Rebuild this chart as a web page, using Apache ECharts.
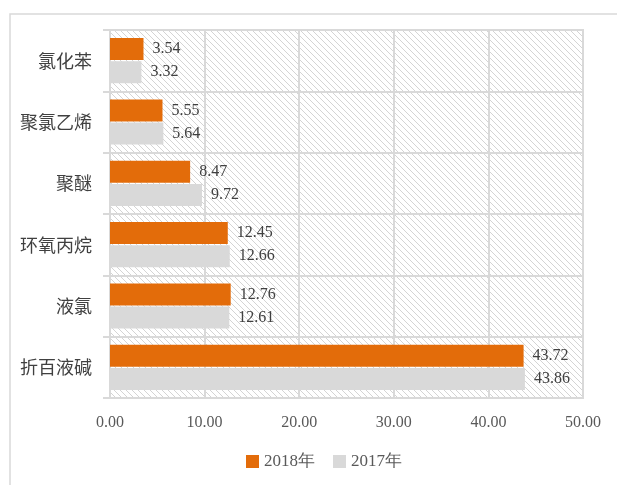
<!DOCTYPE html>
<html>
<head>
<meta charset="utf-8">
<script src="https://cdn.jsdelivr.net/npm/echarts@6/dist/echarts.min.js"></script>
<style>
html, body { margin: 0; padding: 0; background: #fff; }
#chart { width: 617px; height: 485px; }
</style>
</head>
<body>
<div id="chart"></div>
<script>
// 数据 (自下而上)
const categories = ["折百液碱", "液氯", "环氧丙烷", "聚醚", "聚氯乙烯", "氯化苯"];
const data2018 = [43.72, 12.76, 12.45, 8.47, 5.55, 3.54];
const data2017 = [43.86, 12.61, 12.66, 9.72, 5.64, 3.32];
const xTicks = [0, 10, 20, 30, 40, 50];

// 斜线底纹
function hatch() {
	const s = 6;
	const c = document.createElement("canvas");
	c.width = s; c.height = s;
	const ctx = c.getContext("2d");
	ctx.strokeStyle = "#d4d4d4";
	ctx.lineWidth = 1;
	[-s, 0, s].forEach((x0) => {
		ctx.beginPath();
		ctx.moveTo(x0, 0);
		ctx.lineTo(x0 + s, s);
		ctx.stroke();
	});
	return { image: c, repeat: "repeat" };
}

const serif = "'Liberation Serif', 'DejaVu Serif', serif";
const cjk = "'Noto Sans CJK SC', sans-serif";
const grayLine = "#d9d9d9";

const myChart = echarts.init(document.getElementById("chart"));
const labelStyle = {
	show: true,
	position: "right",
	distance: 9,
	color: "#404040",
	fontSize: 16,
	fontFamily: serif,
	formatter: (p) => p.value.toFixed(2),
};

myChart.setOption({
	animation: false,
	graphic: [
		{
			type: "rect",
			shape: { x: 10, y: 14, width: 640, height: 500 },
			style: { fill: null, stroke: grayLine, lineWidth: 1.5 },
			silent: true,
			z: -10,
		},
	],
	grid: {
		left: 110,
		right: 34,
		top: 30,
		bottom: 87,
		show: true,
		backgroundColor: hatch(),
		borderColor: grayLine,
		borderWidth: 2,
	},
	legend: {
		data: ["2018年", "2017年"],
		bottom: 10,
		left: 241,
		icon: "rect",
		itemWidth: 13,
		itemHeight: 13,
		itemGap: 18,
		textStyle: { color: "#595959", fontSize: 17, fontFamily: serif },
	},
	xAxis: {
		type: "value",
		min: xTicks[0],
		max: xTicks[xTicks.length - 1],
		interval: 10,
		axisLine: { show: false },
		axisTick: { show: false },
		axisLabel: {
			margin: 17,
			color: "#595959",
			fontSize: 16,
			fontFamily: serif,
			formatter: (v) => v.toFixed(2),
		},
		splitLine: { lineStyle: { color: grayLine, width: 2 } },
	},
	yAxis: {
		type: "category",
		data: categories,
		axisLine: { show: true, lineStyle: { color: grayLine, width: 2 } },
		axisTick: { show: true, length: 7, lineStyle: { color: grayLine, width: 2 } },
		axisLabel: { margin: 18, color: "#404040", fontSize: 18, fontFamily: cjk },
		splitLine: { show: true, lineStyle: { color: grayLine, width: 2 } },
	},
	series: [
		{
			name: "2018年",
			type: "bar",
			data: data2018,
			barWidth: 22,
			barGap: "5%",
			itemStyle: { color: "#e36c0a" },
			label: labelStyle,
		},
		{
			name: "2017年",
			type: "bar",
			data: data2017,
			barWidth: 22,
			barGap: "5%",
			itemStyle: { color: "#d9d9d9" },
			label: labelStyle,
		},
	],
});
</script>
</body>
</html>
